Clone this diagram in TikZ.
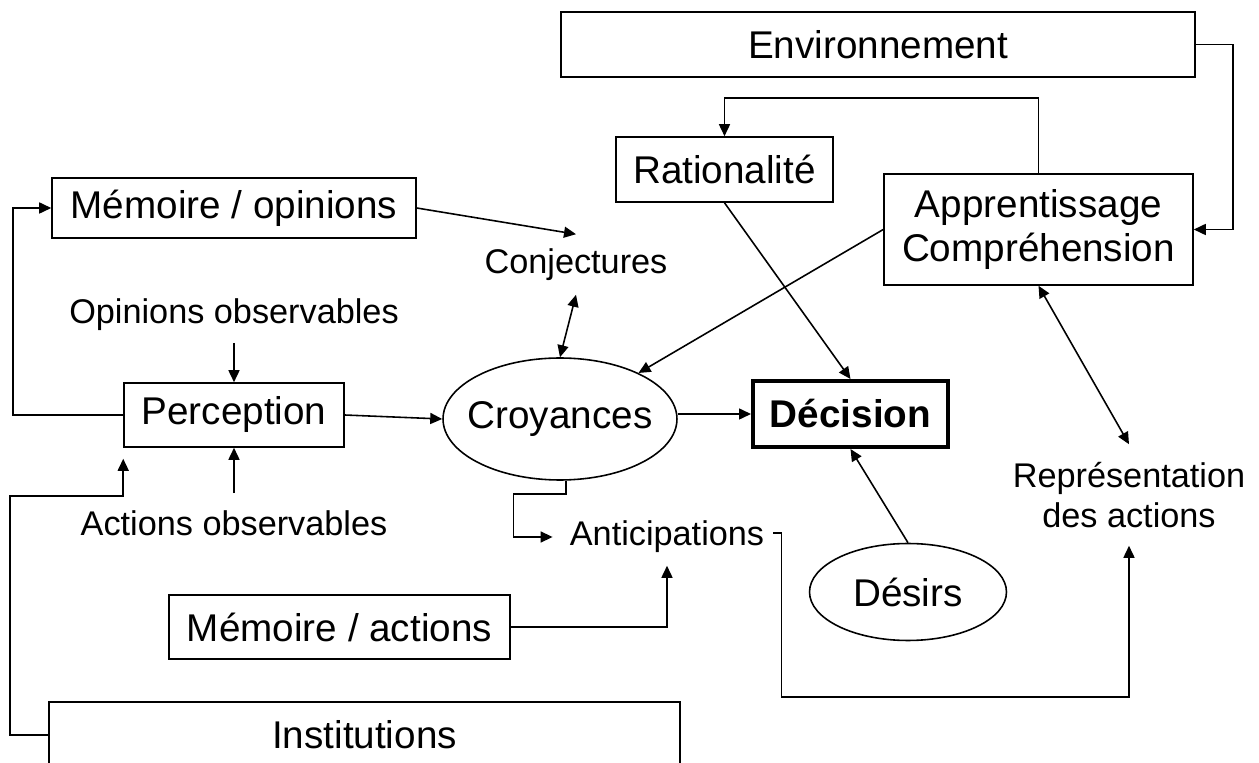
\documentclass[tikz,border=0pt]{standalone}
\usepackage{fontspec}
\setmainfont{Liberation Sans}
\usetikzlibrary{arrows.meta,shapes.geometric,calc}
\begin{document}
\begin{tikzpicture}[x=0.02cm,y=-0.02cm,
  line width=0.9pt,
  tip/.tip={Triangle[length=0.24cm,width=0.22cm]},
  arr/.style={-tip},
  arrs/.style={tip-tip},
  big/.style={font=\fontsize{22}{24.5}\selectfont},
  small/.style={font=\fontsize{19.5}{22.8}\selectfont},
  box/.style={draw, rectangle, inner sep=0pt, big},
  oval/.style={draw, ellipse, inner sep=0pt, big},
  ]
\clip (0,0) rectangle (1259,763);
\fill[white] (0,0) rectangle (1259,763);

% boxes
\node[box,minimum width=12.68cm,minimum height=1.3cm] (env) at (878,44.5) {Environnement};
\node[box,minimum width=4.34cm,minimum height=1.3cm] (rat) at (724.5,169.5) {Rationalité};
\node[box,align=center,minimum width=6.18cm,minimum height=2.22cm] (appr) at (1038.5,229.5) {Apprentissage\\Compréhension};
\node[box,minimum width=7.28cm,minimum height=1.2cm] (memop) at (234,208) {Mémoire / opinions};
\node[box,minimum width=4.4cm,minimum height=1.28cm] (perc) at (234,415) {Perception};
\node[box,line width=2.3pt,minimum width=3.9cm,minimum height=1.32cm,font=\fontsize{22}{24.5}\selectfont\bfseries] (dec) at (850.5,414) {Décision};
\node[box,minimum width=6.82cm,minimum height=1.28cm] (memact) at (339.5,627) {Mémoire / actions};
\node[box,minimum width=12.62cm,minimum height=1.32cm] (inst) at (364.5,735) {Institutions};

% ellipses
\node[oval,minimum width=4.68cm,minimum height=2.44cm] (croy) at (560,419) {\makebox[0pt]{Croyances}};
\node[oval,minimum width=3.94cm,minimum height=1.94cm] (des) at (908,592) {\makebox[0pt]{Désirs}};

% plain labels
\node[small,minimum height=1.18cm] (conj) at (576,264.5) {Conjectures};
\node[small,minimum height=1.08cm] (opobs) at (234,315) {Opinions observables};
\node[small,minimum height=1.16cm] (actobs) at (234,523) {Actions observables};
\node[small,minimum height=1.12cm,inner xsep=0.23cm] (antic) at (667,537) {Anticipations};
\node[small,align=center,minimum height=2cm] (repr) at (1129,495) {Représentation\\des actions};

% connectors
\draw[arr] (env.east) -- ++(37,0) |- (appr.east);
\draw[arr] (appr.north) -- ++(0,-75) -| (rat.north);
\draw[arr] (appr.west) -- (croy);
\draw[arrs] (appr.south) -- (repr.north);
\draw[arr] (rat.south) -- (dec.north);
\draw[arr] (des.north) -- (dec.south);
\draw[arr] (croy.east |- dec.west) -- (dec.west);
\draw[arr] (perc.east) -- (croy.west);
\draw[arr] (memop.east) -- (conj.north);
\draw[arrs] (conj.south) -- (croy.north);
\draw[arr] (opobs.south) -- (perc.north);
\draw[arr] (actobs.north) -- (perc.south);
\draw[arr] (perc.west) -- ++(-110,0) |- (memop.west);
\draw[arr] (inst.west) -| ($(perc.south west)+(-113,48)$) -| ($(perc.south west)+(0,11)$);
\draw[arr,shorten >=0.1cm] ($(croy.south)+(6,0)$) -- ++(0,13) -| ($(antic.west)+(-44,0)$) -- (antic.west);
\draw[arr] (memact.east) -| (antic.south);
\draw[arr] ($(antic.east)+(-3,-4)$) -- ++(8,0) |- ($(repr.south)+(0,151)$) -- (repr.south);
\end{tikzpicture}
\end{document}
